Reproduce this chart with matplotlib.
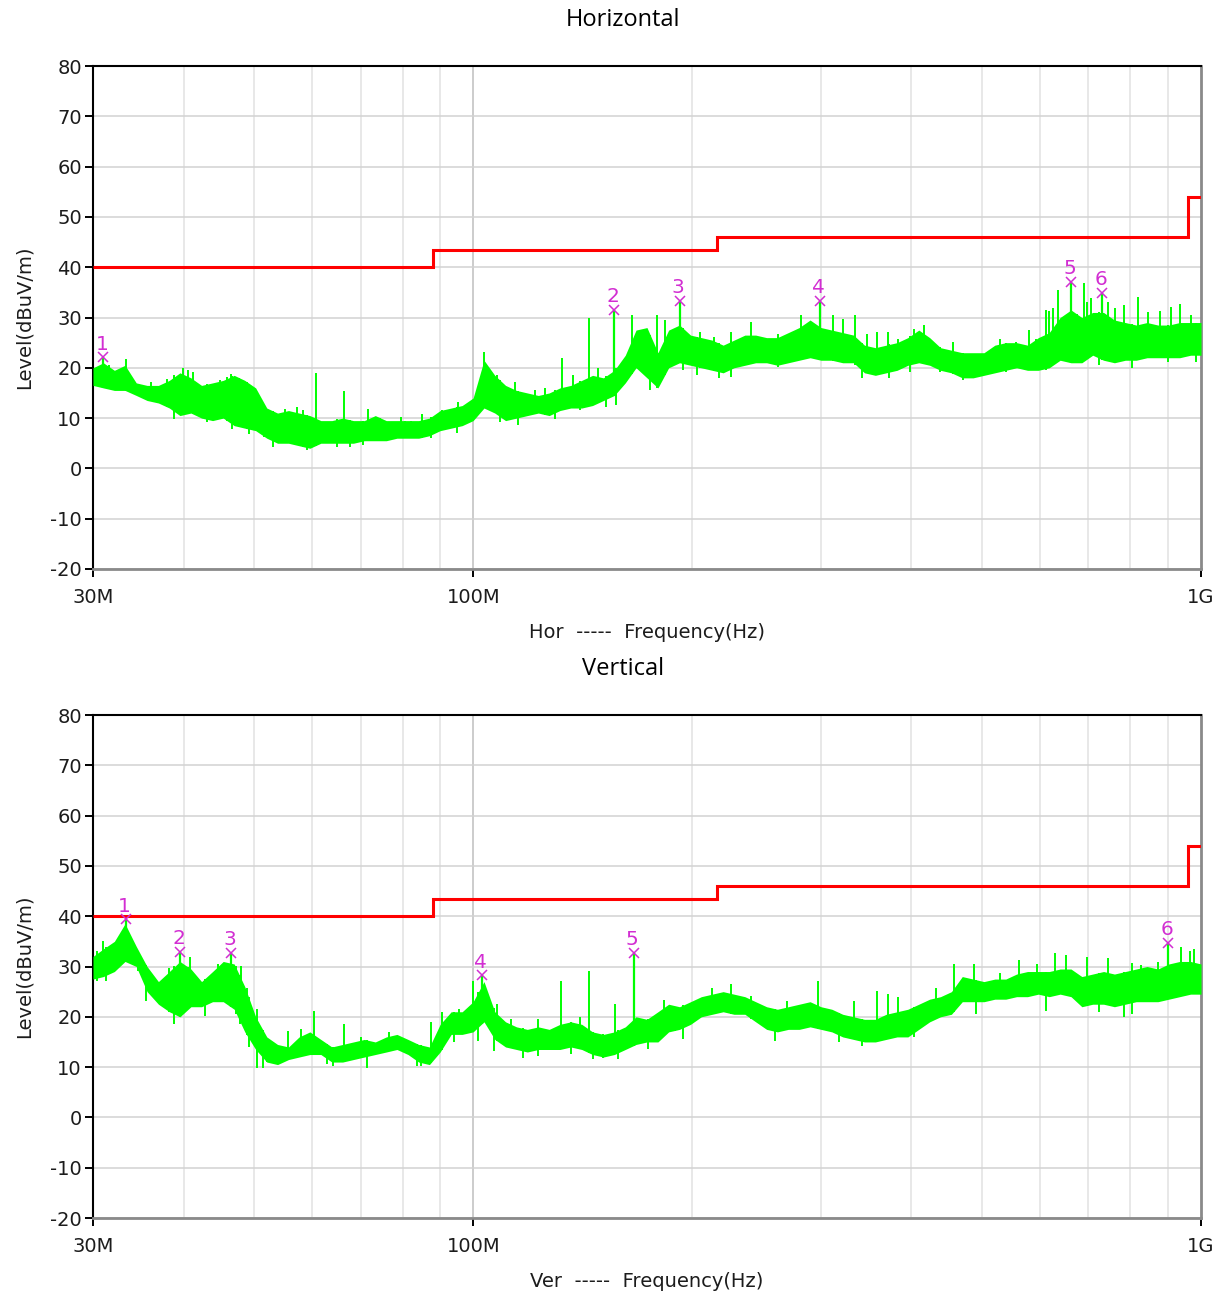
import matplotlib.pyplot as plt
import numpy as np

plt.rcParams['axes.unicode_minus'] = False

# frequency grid (MHz) the envelopes were read at
freq_mhz = [30, 31, 32.1, 33.2, 34.4, 35.6, 36.9, 38.2, 39.5, 40.9,
            42.3, 43.8, 45.3, 46.9, 48.5, 50.2, 52, 53.8, 55.7, 57.6,
            59.6, 61.7, 63.9, 66.1, 68.4, 70.8, 73.3, 75.9, 78.5, 81.3,
            84.1, 87, 90, 93.2, 96.5, 99.9, 103.4, 107, 110.7, 114.6,
            118.6, 122.8, 127.1, 131.5, 136.1, 140.9, 145.8, 150.9, 156.2, 161.7,
            167.3, 173.2, 179.3, 185.5, 192, 198.8, 205.7, 212.9, 220.4, 228.1,
            236.1, 244.3, 252.9, 261.7, 270.9, 280.4, 290.2, 300.4, 310.9, 321.8,
            333, 344.7, 356.8, 369.2, 382.2, 395.5, 409.4, 423.7, 438.5, 453.9,
            469.8, 486.2, 503.2, 520.8, 539.1, 557.9, 577.5, 597.7, 618.6, 640.3,
            662.7, 685.9, 709.9, 734.7, 760.4, 787, 814.6, 843.1, 872.6, 903.2,
            934.8, 967.5, 1000]

# Horizontal: lower / upper edge of the noise band (dBuV/m)
hor_low = [16.5, 16, 15.5, 15.5, 14.5, 13.5, 13, 12, 10.5, 11,
           10, 9.5, 10, 8.5, 8, 7.5, 6, 5, 5, 4.5,
           4, 5, 5, 5, 5, 5.5, 5.5, 5.5, 6, 6,
           6, 6.5, 7.5, 8, 8.5, 9.5, 12, 11, 9.5, 10,
           10.5, 11, 10.5, 11.5, 12, 12, 12.5, 13.5, 14.5, 17,
           20, 18, 16, 20, 21, 20.5, 20, 19.5, 19, 20,
           20.5, 21, 21, 20.5, 21, 21.5, 22, 21.5, 21.5, 21,
           21, 19, 18.5, 19, 19.5, 20.5, 21, 20.5, 19.5, 19,
           18, 18, 18.5, 19, 19.5, 20, 19.5, 19.5, 20, 21.5,
           21, 21, 22.5, 21.5, 21, 21.5, 21.5, 22, 22, 22,
           22, 22.5, 22.5]
hor_high = [20, 21, 19.5, 20.5, 17, 16.5, 16.5, 17.5, 19, 18,
            16.5, 17, 17.5, 18.5, 17.5, 16, 12, 11, 11.5, 11,
            10.5, 9.5, 9.5, 10, 9.5, 9.5, 10.5, 9.5, 9.5, 9.5,
            9.5, 10, 11.5, 12, 12.5, 14, 21.5, 18.5, 16.5, 15.5,
            15, 14.5, 15, 16, 16.5, 17.5, 18.5, 18, 19.5, 22.5,
            27.5, 28, 23, 27.5, 28.5, 26.5, 26, 25.5, 24.5, 25.5,
            26.5, 26.5, 26, 26, 27, 28, 29.5, 28, 27.5, 27,
            26.5, 24.5, 24, 24.5, 25, 26, 27.5, 26, 24, 23.5,
            23, 23, 23, 24.5, 25, 25, 24.5, 26, 27, 30,
            31.5, 30, 31, 31, 29.5, 29, 28.5, 29, 28.5, 28.5,
            29, 29, 29]

# Vertical
ver_low = [27.5, 28, 29, 31, 30, 25, 22.5, 21, 20, 22,
           22, 23, 23, 21.5, 17, 13.5, 11, 10.5, 11.5, 12,
           12.5, 12.5, 11, 11, 11.5, 12, 12.5, 13, 13.5, 12.5,
           11, 10.5, 13, 16.5, 16.5, 17, 19, 15.5, 14, 13.5,
           13, 13.5, 13.5, 13.5, 14, 13.5, 12.5, 12, 12.5, 13.5,
           14.5, 15, 15, 17, 17.5, 18.5, 20, 20.5, 21, 20.5,
           20.5, 19, 17.5, 17, 17.5, 17.5, 18, 17.5, 17, 16,
           15.5, 15, 15, 15.5, 16, 16, 17.5, 19, 20, 20.5,
           23, 23, 23, 23.5, 23.5, 24, 24, 24.5, 24, 24.5,
           24, 22, 22.5, 22.5, 22, 22.5, 23, 23, 23, 23.5,
           24, 24.5, 24.5]
ver_high = [32, 33.5, 35, 38.5, 34, 30, 27, 29, 31, 29.5,
            27, 29, 31, 30.5, 26, 20, 16, 14.5, 14, 16,
            17, 15.5, 14, 14.5, 15, 15.5, 15, 16, 16.5, 15.5,
            14.5, 14, 18.5, 21, 21, 23, 27, 21, 19, 18,
            17.5, 18, 17.5, 18.5, 19, 18.5, 17, 16.5, 17, 18,
            20, 19.5, 21, 22.5, 22, 23, 24, 24.5, 25, 24.5,
            24, 23, 22, 21.5, 22, 22.5, 23, 22, 21.5, 20.5,
            20, 19.5, 19.5, 20.5, 21, 21.5, 22.5, 23.5, 24, 25,
            28, 27.5, 27, 27.5, 27.5, 28.5, 29, 29, 29, 29.5,
            29.5, 28, 28.5, 29, 28.5, 29, 29.5, 30, 29.5, 30.5,
            31, 31, 30.5]

# narrow spikes above the band (MHz, top level)
hor_up_mhz = [30.35, 31.6, 32.3, 33.3, 36.1, 37.9, 38.8, 39.9, 40.5, 41.2,
              44.8, 45.9, 46.4, 47.6, 48.8, 50, 51.6, 55, 57.2, 58.3,
              60.7, 66.4, 71.7, 73.4, 79.4, 84.9, 90.4, 95.2, 103.4, 107.6,
              114, 121.4, 125.5, 132.3, 137, 144, 148.2, 165, 178.6, 183.2,
              205, 214, 226, 241, 262, 282, 312, 322, 335, 347,
              359, 371, 383, 403, 416, 456, 529, 557, 580, 612,
              618, 626, 636, 690, 697, 706, 745, 761, 783, 820,
              845, 879, 910, 937, 970]
hor_up_top = [19.9, 20.5, 19.2, 21.7, 17.2, 17.7, 18.5, 19.9, 19.5, 19.2,
              17.5, 18.2, 18.7, 17.9, 17.2, 15.6, 11.6, 11.9, 12.3, 11.6,
              18.9, 15.4, 11.9, 9.9, 10.3, 10.9, 11.6, 13.2, 23.2, 18.5,
              17.2, 15.6, 15.9, 21.9, 18.5, 30, 19.9, 30.5, 30.5, 29.5,
              27.2, 26.2, 27.2, 29.1, 26.8, 30.5, 30.5, 29.8, 30.5, 26.8,
              27.2, 27.2, 25.8, 27.8, 28.5, 25.2, 25.8, 25.2, 27.5, 31.5,
              31.2, 31.9, 35.5, 36.8, 33.1, 33.8, 33.1, 31.9, 32.5, 34.1,
              31, 31.2, 32.1, 32.7, 30.4]
# narrow dips below the band (MHz, bottom level)
hor_dn_mhz = [38.8, 43.1, 46.6, 49.2, 53, 59, 64.9, 67.6, 70.5, 74.4,
              80.6, 82, 87.4, 95, 108.7, 115, 129.6, 140, 152, 157,
              175, 178.6, 194, 202.6, 217.5, 226, 262, 342, 373, 398,
              438, 471, 540, 593, 613, 675, 724, 803, 902, 984]
hor_dn_bot = [9.9, 9.3, 7.9, 6.9, 4.3, 3.6, 4.3, 4.3, 4.6, 6,
              7.6, 6, 6, 7, 9.3, 8.6, 9.9, 11.6, 12.2, 12.6,
              15.6, 15.9, 19.5, 18.5, 17.9, 18.2, 20.2, 17.9, 17.9, 19.2,
              19.2, 17.5, 19.2, 19.5, 19.5, 20.9, 20.5, 19.9, 21.2, 21.2]

ver_up_mhz = [30.35, 31, 31.6, 32.4, 34.1, 34.6, 38.2, 38.8, 40.8, 42.1,
              44.6, 47.2, 47.9, 48.8, 50.4, 52, 55.6, 58, 60.3, 66.4,
              70, 76.6, 87.4, 90.4, 95.6, 99.9, 107.8, 112.7, 122.6, 132,
              140, 144, 156.5, 183, 189, 213, 226, 241, 270, 298,
              333, 359, 371, 383, 432, 457, 488, 529, 562, 596,
              630, 652, 697, 745, 803, 828, 872, 940, 966, 978]
ver_up_top = [33.1, 35.1, 31.8, 34.1, 34.1, 32.1, 29.8, 30.1, 31.8, 26.5,
              30.5, 30.1, 30.1, 25.8, 21.5, 15.2, 17.2, 17.5, 21.2, 18.5,
              15.9, 16.9, 18.9, 20.9, 21.5, 27.2, 22.5, 19.5, 19.5, 27.2,
              19.9, 29.1, 22.5, 23.3, 21.9, 25.8, 26.5, 24.2, 23.2, 27.2,
              23.2, 25.2, 24.5, 23.9, 25.8, 30.5, 30.5, 28.8, 31.3, 30.5,
              32.6, 32.3, 31.9, 31.7, 30.6, 30.3, 30.8, 33.8, 33.1, 33.4]
ver_dn_mhz = [30.35, 31.3, 35.5, 38.8, 40.5, 42.7, 47.7, 49.1, 50.4, 51.4,
              53.1, 60.3, 63, 64.1, 71.3, 83.7, 84.6, 94, 101.6, 106.6,
              116.9, 122.6, 136, 146, 150.6, 158, 173.6, 194, 259.5, 318,
              342, 403, 491, 612, 724, 783, 803]
ver_dn_bot = [27.2, 27.2, 23.2, 18.5, 21.9, 20.2, 18.5, 13.9, 9.9, 9.9,
              10.9, 13.6, 10.6, 10.3, 9.9, 10.3, 10.3, 14.9, 15.2, 13.2,
              11.9, 12.3, 12.6, 11.6, 11.9, 11.6, 13.6, 15.6, 15.2, 14.9,
              14.2, 15.9, 20.5, 21.2, 20.9, 19.9, 20.5]

# limit line
limit_edges_mhz = [30, 88, 216, 960, 1000]
limit_level = [40, 43.5, 46, 54]

# peak markers
hor_mark_mhz = [31.0, 156, 192, 299, 663, 731]
hor_mark_level = [22.1, 31.5, 33.3, 33.3, 37.1, 34.9]
ver_mark_mhz = [33.3, 39.5, 46.4, 102.7, 166, 901]
ver_mark_level = [39.4, 32.9, 32.7, 28.3, 32.7, 34.7]

GREEN = '#00ff00'
MAGENTA = '#d22ed2'
TXT = '#1c1c1c'

fig = plt.figure(figsize=(12.21, 12.93), dpi=100)
ax_h = fig.add_axes([93 / 1221, 1 - 569 / 1293, 1108 / 1221, 503 / 1293])
ax_v = fig.add_axes([93 / 1221, 1 - 1218 / 1293, 1108 / 1221, 503 / 1293])


def draw_panel(ax, low, high, up_f, up_top, dn_f, dn_bot, mk_f, mk_l, tag):
    f = np.array(freq_mhz) * 1e6
    logf = np.log10(f)
    ax.fill_between(f, low, high, color=GREEN, lw=0, zorder=3)

    uf = np.array(up_f) * 1e6
    ax.vlines(uf, np.interp(np.log10(uf), logf, low), up_top, color=GREEN, lw=1.4, zorder=3)
    df = np.array(dn_f) * 1e6
    ax.vlines(df, dn_bot, np.interp(np.log10(df), logf, high), color=GREEN, lw=1.4, zorder=3)

    mf = np.array(mk_f) * 1e6
    ax.vlines(mf, np.interp(np.log10(mf), logf, low), mk_l, color=GREEN, lw=1.6, zorder=3)

    ax.stairs(limit_level, np.array(limit_edges_mhz) * 1e6, baseline=None,
              color='#ff0000', lw=2.2, zorder=4)

    ax.plot(mf, mk_l, 'x', color=MAGENTA, ms=7, mew=1.1, zorder=5)
    for i, (x, y) in enumerate(zip(mf, mk_l)):
        ax.annotate(str(i + 1), (x, y), xytext=(-1, 2.5), textcoords='offset points',
                    ha='center', va='bottom', color=MAGENTA, fontsize=14.5, zorder=5)

    ax.set_xscale('log')
    ax.set_xlim(30e6, 1e9)
    ax.set_ylim(-20, 80)
    ax.set_yticks(range(-20, 81, 10))
    ax.set_xticks([30e6, 100e6, 1e9])
    ax.set_xticklabels(['30M', '100M', '1G'])
    minor = [m * 1e6 for m in (40, 50, 60, 70, 80, 90, 200, 300, 400, 500, 600, 700, 800, 900)]
    ax.set_xticks(minor, minor=True)
    ax.xaxis.set_minor_formatter(plt.NullFormatter())

    ax.grid(True, axis='y', which='major', color='#d2d2d2', lw=1.1, zorder=0)
    ax.grid(True, axis='x', which='minor', color='#e2e2e2', lw=1.1, zorder=0)
    ax.axvline(100e6, color='#c8c8c8', lw=1.3, zorder=0)

    ax.tick_params(axis='y', direction='out', length=6, width=1.4, color='black',
                   labelsize=14, labelcolor=TXT, pad=2)
    ax.tick_params(axis='x', which='major', direction='out', length=6, width=1.4,
                   color='black', labelsize=14, labelcolor=TXT, pad=8)
    ax.tick_params(axis='x', which='minor', length=0)

    for side in ('left', 'top'):
        ax.spines[side].set_color('black')
        ax.spines[side].set_linewidth(1.5)
    for side in ('right', 'bottom'):
        ax.spines[side].set_color('#8a8a8a')
        ax.spines[side].set_linewidth(2)

    ax.set_ylabel('Level(dBuV/m)', fontsize=14, color=TXT, labelpad=12)
    ax.set_xlabel(tag + '  -----  Frequency(Hz)', fontsize=14, color=TXT, labelpad=11)


draw_panel(ax_h, hor_low, hor_high, hor_up_mhz, hor_up_top, hor_dn_mhz, hor_dn_bot,
           hor_mark_mhz, hor_mark_level, 'Hor')
draw_panel(ax_v, ver_low, ver_high, ver_up_mhz, ver_up_top, ver_dn_mhz, ver_dn_bot,
           ver_mark_mhz, ver_mark_level, 'Ver')

fig.text(623 / 1221, 1 - 20 / 1293, 'Horizontal', ha='center', va='center',
         fontsize=17, family='Open Sans', color='black')
fig.text(623 / 1221, 1 - 669 / 1293, 'Vertical', ha='center', va='center',
         fontsize=17, family='Open Sans', color='black')

fig.savefig('out.png', dpi=100)
